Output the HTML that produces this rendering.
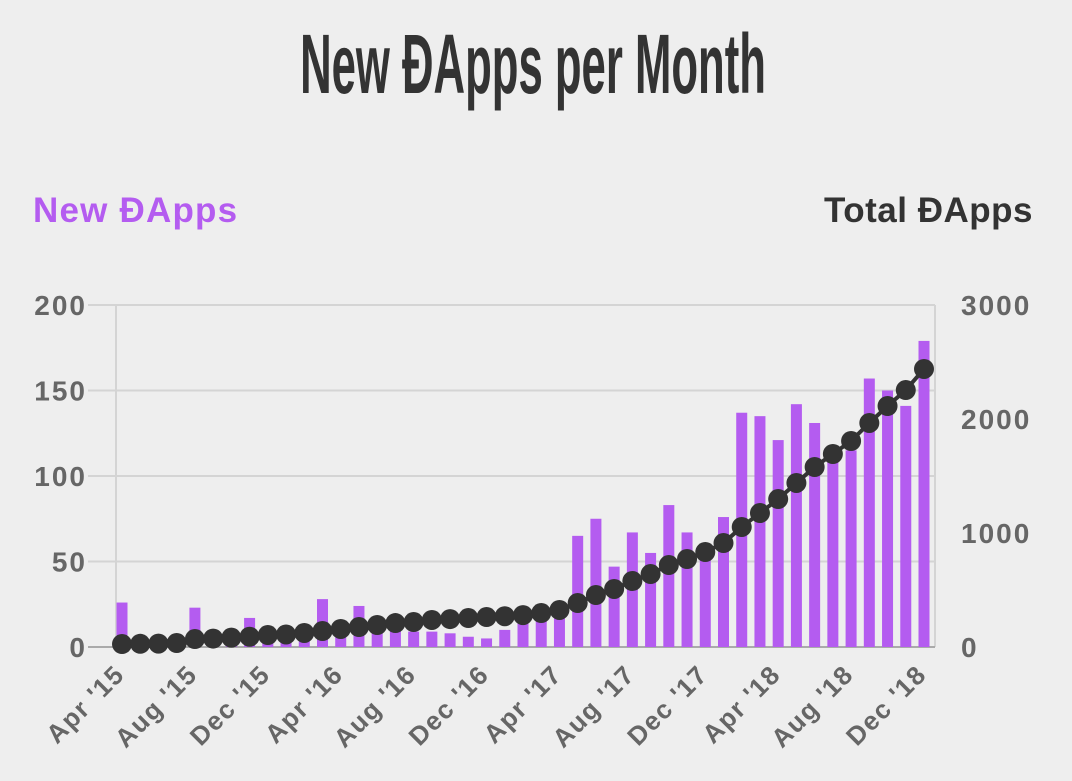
<!DOCTYPE html>
<html><head><meta charset="utf-8">
<style>
html,body{margin:0;padding:0;background:#eeeeee;}
body{width:1072px;height:776px;overflow:hidden;font-family:"Liberation Sans",sans-serif;}
</style></head>
<body>
<svg id="chart" width="1072" height="776" xmlns="http://www.w3.org/2000/svg">
<rect width="1072" height="776" fill="#eeeeee"/>
<text x="533" y="93" text-anchor="middle" font-family="Liberation Sans Narrow, Liberation Sans, sans-serif" font-size="84" font-weight="bold" fill="#333" transform="translate(533 0) scale(0.52 1) translate(-533 0)">New ĐApps per Month</text>
<text x="33" y="222" font-size="35" font-weight="bold" letter-spacing="1.2" fill="#b45cf0">New ĐApps</text>
<text x="1033" y="222" text-anchor="end" font-size="35" font-weight="bold" letter-spacing="0.5" fill="#333">Total ĐApps</text>
<g id="grid"></g><g id="bars"></g><g id="line"></g><g id="axes"></g>
</svg>
<script>
const months=["Apr '15","May '15","Jun '15","Jul '15","Aug '15","Sep '15","Oct '15","Nov '15","Dec '15","Jan '16","Feb '16","Mar '16","Apr '16","May '16","Jun '16","Jul '16","Aug '16","Sep '16","Oct '16","Nov '16","Dec '16","Jan '17","Feb '17","Mar '17","Apr '17","May '17","Jun '17","Jul '17","Aug '17","Sep '17","Oct '17","Nov '17","Dec '17","Jan '18","Feb '18","Mar '18","Apr '18","May '18","Jun '18","Jul '18","Aug '18","Sep '18","Oct '18","Nov '18","Dec '18"];
const newDapps=[26,3,3,4,23,5,6,17,8,6,10,28,9,24,10,10,9,9,8,6,5,10,18,18,20,65,75,47,67,55,83,67,57,76,137,135,121,142,131,110,115,157,150,141,179];
const totalDapps=[26,28,30,35,70,74,82,90,105,110,123,140,158,175,193,210,219,237,245,254,263,270,280,298,325,386,456,509,579,640,719,772,833,912,1053,1175,1298,1439,1579,1693,1807,1965,2114,2254,2439];
const leftTicks=[0,50,100,150,200];
const rightTicks=[0,1000,2000,3000];
const xLabels=["Apr '15","Aug '15","Dec '15","Apr '16","Aug '16","Dec '16","Apr '17","Aug '17","Dec '17","Apr '18","Aug '18","Dec '18"];

const NS="http://www.w3.org/2000/svg";
const x0=122,x1=924,yb=647,yt=305;
const xs=i=>x0+(x1-x0)*i/(months.length-1);
const yl=v=>yb-(yb-yt)*v/200;
const yr=v=>yb-(yb-yt)*v/3000;
function mk(tag,attrs,parent){const e=document.createElementNS(NS,tag);for(const k in attrs)e.setAttribute(k,attrs[k]);document.getElementById(parent).appendChild(e);return e;}

leftTicks.forEach(t=>{
  const g=mk('line',{x1:88,x2:935,y1:yl(t),y2:yl(t),stroke:'#d4d4d4','stroke-width':2},'grid');
  
  
  const l=mk('text',{x:87,y:yl(t)+10,'text-anchor':'end','font-size':28,'letter-spacing':2,fill:'#666','font-weight':'bold'},'axes');
  l.textContent=t;
  
  
});
const ax=mk('line',{x1:116,x2:116,y1:yt,y2:yb,stroke:'#d4d4d4','stroke-width':2},'grid');


const ax2=mk('line',{x1:935,x2:935,y1:yt,y2:yb,stroke:'#d4d4d4','stroke-width':2},'grid');


const base=mk('line',{x1:88,x2:935,y1:yb,y2:yb,stroke:'#aaa','stroke-width':2},'grid');


rightTicks.forEach(t=>{
  const l=mk('text',{x:961,y:yr(t)+10,'font-size':28,'letter-spacing':2,'font-weight':'bold',fill:'#666'},'axes');
  l.textContent=t;
  
  
});
newDapps.forEach((v,i)=>{
  const b=mk('rect',{x:xs(i)-5.5,y:yl(v),width:11,height:yb-yl(v),fill:'#b45cf0'},'bars');
  
  
});
const pl=mk('polyline',{points:totalDapps.map((v,i)=>xs(i)+','+yr(v)).join(' '),fill:'none',stroke:'#333','stroke-width':4},'line');


totalDapps.forEach((v,i)=>{
  const c=mk('circle',{cx:xs(i),cy:yr(v),r:10,fill:'#333'},'line');
  
  
});
xLabels.forEach(lbl=>{
  const i=months.indexOf(lbl);
  const x=xs(i)+4,y=676;
  const t=mk('text',{x:x,y:y,'text-anchor':'end','font-size':26,'letter-spacing':1.5,'font-weight':'bold',fill:'#666',transform:`rotate(-45 ${x} ${y})`},'axes');
  t.textContent=lbl;
  
  
});
</script>
</body></html>
